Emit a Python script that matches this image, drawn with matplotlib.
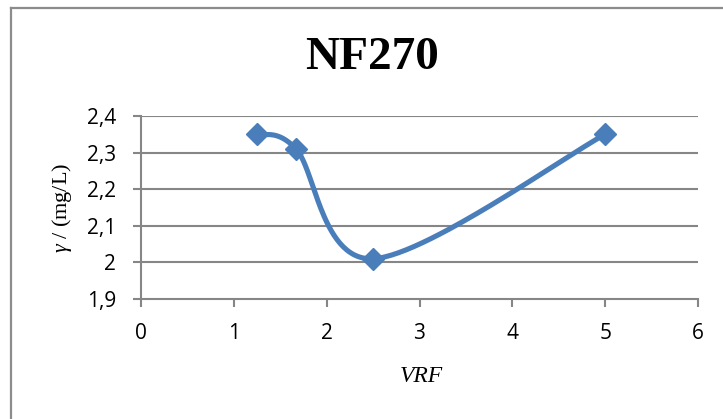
import numpy as np
import matplotlib
matplotlib.use("Agg")
import matplotlib.pyplot as plt
from matplotlib.ticker import FuncFormatter
from matplotlib.lines import Line2D

# data
vrf = [1.25, 1.67, 2.5, 5.0]
gamma = [2.35, 2.31, 2.01, 2.35]
x_ticks = [0, 1, 2, 3, 4, 5, 6]
y_ticks = [1.9, 2.0, 2.1, 2.2, 2.3, 2.4]
title = "NF270"
x_label = "VRF"
y_label = r"$\gamma$ / (mg/L)"

blue = "#4a7ebb"
grid_gray = "#868686"


def excel_smooth(xs, ys, n=60):
    # bezier smoothing like Excel's "smoothed line"
    p = np.column_stack([xs, ys]).astype(float)
    ext = np.vstack([p[0], p, p[-1]])
    out = []
    t = np.linspace(0, 1, n)[:, None]
    for i in range(len(p) - 1):
        p0, p3 = ext[i + 1], ext[i + 2]
        c1 = p0 + (ext[i + 2] - ext[i]) / 6.0
        c2 = p3 - (ext[i + 3] - ext[i + 1]) / 6.0
        seg = ((1 - t) ** 3) * p0 + 3 * ((1 - t) ** 2) * t * c1 + 3 * (1 - t) * t ** 2 * c2 + t ** 3 * p3
        out.append(seg)
    curve = np.vstack(out)
    return curve[:, 0], curve[:, 1]


plt.rcParams["mathtext.fontset"] = "custom"
plt.rcParams["mathtext.it"] = "Liberation Serif:italic"
plt.rcParams["mathtext.rm"] = "Liberation Serif"

fig = plt.figure(figsize=(7.23, 4.19), dpi=100)
ax = fig.add_axes([141 / 723, 1 - 299 / 419, (698 - 141) / 723, (299 - 116) / 419])

for yv in y_ticks[1:]:
    ax.axhline(yv, color=grid_gray, lw=1.5, zorder=1)

sx, sy = excel_smooth(vrf, gamma)
ax.plot(sx, sy, color=blue, lw=3.7, solid_capstyle="round", zorder=3)
ax.plot(vrf, gamma, ls="none", marker="D", ms=11, color=blue, mec=blue, zorder=4)

ax.set_xlim(0, 6)
ax.set_ylim(1.9, 2.4)
ax.set_xticks(x_ticks)
ax.set_yticks(y_ticks)
ax.xaxis.set_major_formatter(FuncFormatter(lambda v, p: f"{v:g}"))
ax.yaxis.set_major_formatter(FuncFormatter(lambda v, p: f"{v:g}".replace(".", ",")))

for s in ["top", "right"]:
    ax.spines[s].set_visible(False)
for s in ["left", "bottom"]:
    ax.spines[s].set_color(grid_gray)
    ax.spines[s].set_linewidth(1.5)

ax.tick_params(axis="both", color=grid_gray, width=1.5, length=6, direction="out",
               labelsize=15, labelcolor="black")
ax.tick_params(axis="y", pad=12)
ax.tick_params(axis="x", pad=11)
for lab in ax.get_xticklabels() + ax.get_yticklabels():
    lab.set_fontfamily("Open Sans")

fig.text(372 / 723, 1 - 58 / 419, title, ha="center", va="center",
         fontsize=34, fontweight="bold", family="Liberation Serif")
fig.text(421 / 723, 1 - 376 / 419, x_label, ha="center", va="center",
         fontsize=17, style="italic", family="Liberation Serif")
fig.text(62 / 723, 1 - 208 / 419, y_label, ha="center", va="center",
         fontsize=16, rotation=90, family="Liberation Serif")

# chart area border (only left and top visible)
fig.add_artist(Line2D([11 / 723, 11 / 723], [0, 1 - 8 / 419], color="#8c8c8c", lw=1.6))
fig.add_artist(Line2D([11 / 723, 1], [1 - 8 / 419, 1 - 8 / 419], color="#8c8c8c", lw=1.6))

fig.savefig("out.png", dpi=100)
